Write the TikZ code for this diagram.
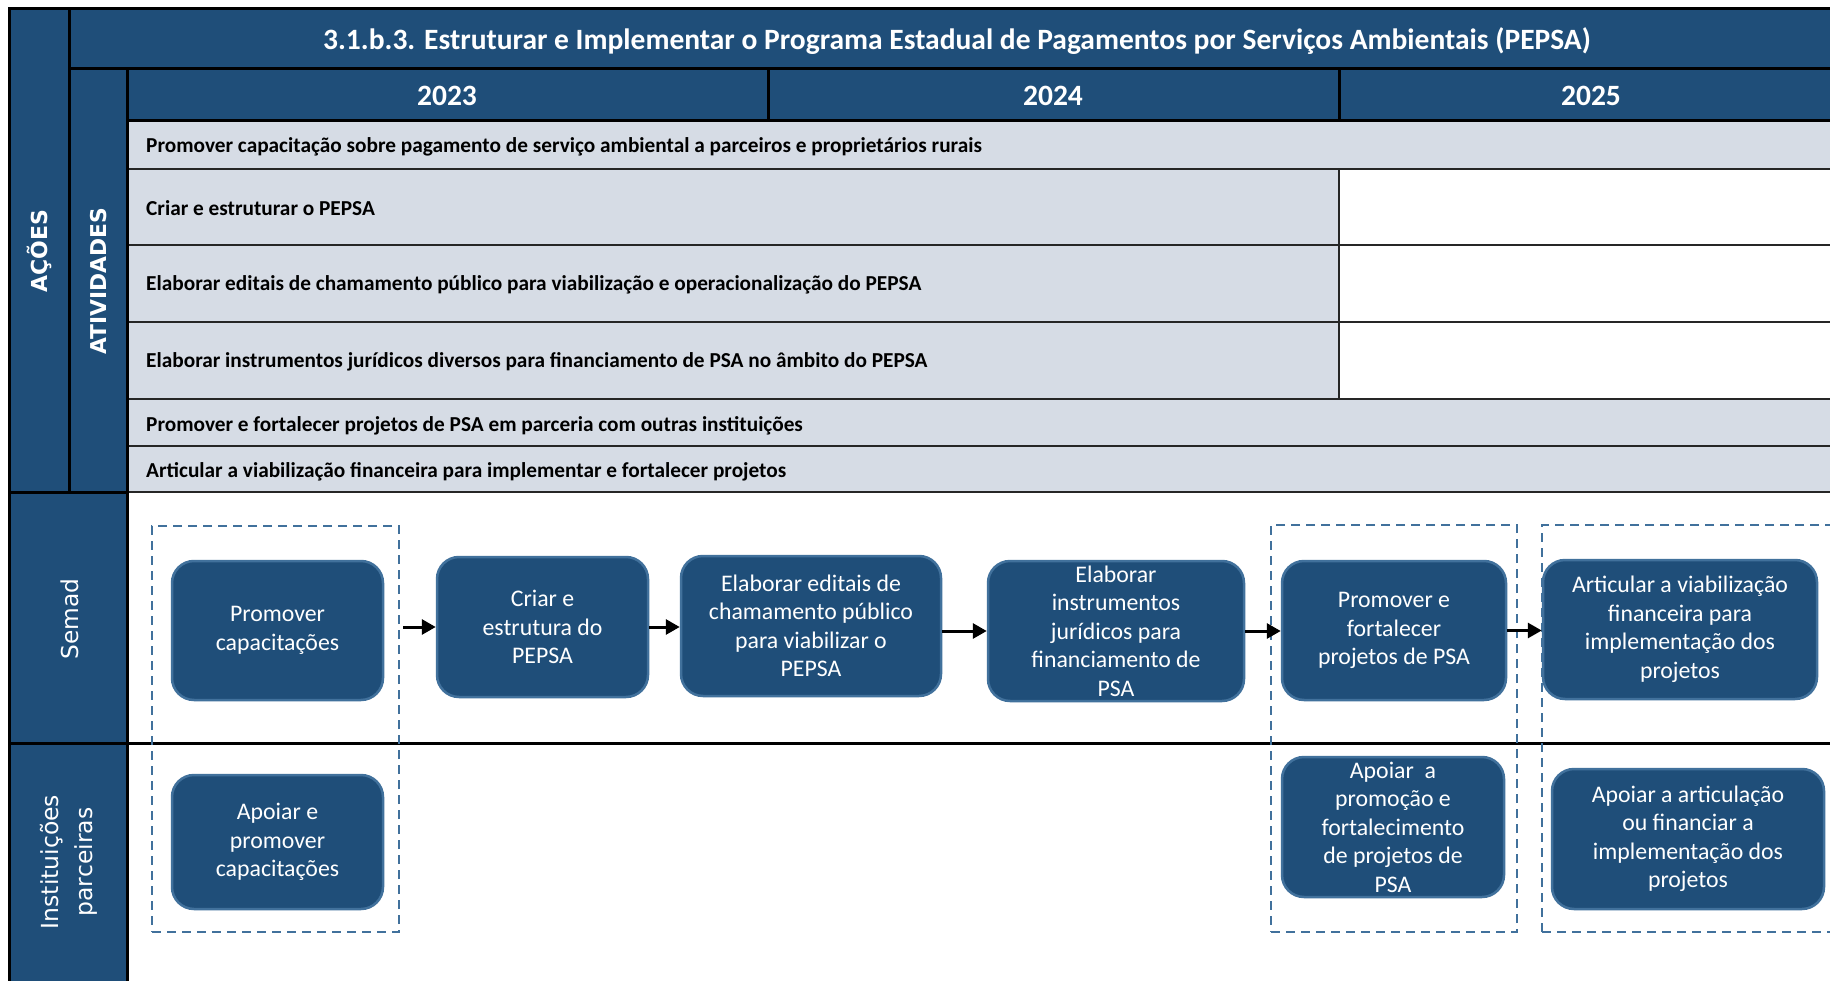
\documentclass[tikz,border=0pt]{standalone}
\usepackage{fontspec}
\setmainfont{Carlito}
\newfontfamily\labfont{DejaVu Sans}
\usetikzlibrary{arrows.meta}
\definecolor{hdr}{HTML}{1F4E79}
\definecolor{rowgray}{HTML}{D6DCE5}
\definecolor{nodeline}{HTML}{41719C}
\definecolor{dashc}{HTML}{41719C}
\begin{document}
\begin{tikzpicture}[x=1pt,y=-1pt,
  cell/.style={draw=black,line width=3pt,fill=hdr},
  gridline/.style={draw=black!85,line width=2.6pt},
  hdrtext/.style={text=white,font=\fontsize{29.5}{34}\selectfont\bfseries,inner sep=0pt},
  acttext/.style={anchor=west,text=black,font=\fontsize{21.3}{25}\selectfont\bfseries,inner sep=0pt},
  sidelab/.style={text=white,rotate=90,align=center,inner sep=0pt},
  proc/.style={draw=nodeline,line width=2.5pt,fill=hdr,rounded corners=22pt,text=white,align=center,
    font=\fontsize{23.8}{28.5}\selectfont,inner sep=0pt},
  grp/.style={draw=dashc,line width=2.5pt,dash pattern=on 9pt off 6pt,inner sep=0pt},
  flow/.style={draw=black,line width=3pt,-{Triangle[length=14pt,width=15pt]}}
]
\clip (0,0) rectangle (1830,981);
\fill[white] (0,0) rectangle (1830,981);
% activity rows
\fill[rowgray] (127,121) rectangle (1850,169);
\fill[rowgray] (127,169) rectangle (1339,399);
\fill[rowgray] (127,399) rectangle (1850,492);
\foreach \yy in {169,245,322,399,446,492}{\draw[gridline] (127,\yy) -- (1850,\yy);}
\draw[gridline] (1339,169) -- (1339,399);
% lanes
\draw[black,line width=3pt] (9,743) -- (1850,743);
\draw[black,line width=3pt] (127,492) -- (127,1000);
% header cells
\filldraw[cell] (9,9) rectangle (69,492);
\filldraw[cell] (69,9) rectangle (1850,69);
\filldraw[cell] (69,69) rectangle (127,492);
\filldraw[cell] (127,69) rectangle (768,121);
\filldraw[cell] (768,69) rectangle (1339,121);
\filldraw[cell] (1339,69) rectangle (1850,121);
\filldraw[cell] (9,492) rectangle (127,743);
\filldraw[cell] (9,743) rectangle (127,1000);
% header texts
\node[hdrtext] (title) at (957,41) {3.1.b.3. Estruturar e Implementar o Programa Estadual de Pagamentos por Serviços Ambientais (PEPSA)};
\node[hdrtext] (y23) at (447,96) {2023};
\node[hdrtext] (y24) at (1053,96) {2024};
\node[hdrtext] (y25) at (1591,96) {2025};
\node[sidelab,font=\labfont\fontsize{22}{26}\selectfont\bfseries] (acoes) at (39,251) {AÇÕES};
\node[sidelab,font=\labfont\fontsize{21.8}{26}\selectfont\bfseries] (ativ) at (99,281) {ATIVIDADES};
\node[sidelab,font=\labfont\fontsize{23.3}{33}\selectfont] (semad) at (70,619) {Semad};
\node[sidelab,font=\labfont\fontsize{23.5}{34}\selectfont] (inst) at (69,862) {Instituições\\parceiras};
% activity texts
\node[acttext] (a1) at (146,147) {Promover capacitação sobre pagamento de serviço ambiental a parceiros e proprietários rurais};
\node[acttext] (a2) at (146,208) {Criar e estruturar o PEPSA};
\node[acttext] (a3) at (146,285) {Elaborar editais de chamamento público para viabilização e operacionalização do PEPSA};
\node[acttext] (a4) at (146,362) {Elaborar instrumentos jurídicos diversos para financiamento de PSA no âmbito do PEPSA};
\node[acttext] (a5) at (146,426) {Promover e fortalecer projetos de PSA em parceria com outras instituições};
\node[acttext] (a6) at (146,472) {Articular a viabilização financeira para implementar e fortalecer projetos};
% group boxes
\node[grp,minimum width=247pt,minimum height=406pt] (g1) at (275.5,729) {};
\node[grp,minimum width=246pt,minimum height=407pt] (g2) at (1394,728.5) {};
\node[grp,minimum width=310pt,minimum height=407pt] (g3) at (1697,728.5) {};
% process nodes
\node[proc,minimum width=211pt,minimum height=139pt] (n1) at (277.5,630.5) {Promover\\capacitações};
\node[proc,minimum width=211pt,minimum height=140pt] (n2) at (542.5,627) {Criar e\\estrutura do\\PEPSA};
\node[proc,minimum width=260pt,minimum height=140pt] (n3) at (811,626) {Elaborar editais de\\chamamento público\\para viabilizar o\\PEPSA};
\node[proc,minimum width=256pt,minimum height=140pt] (n4) at (1116,631) {Elaborar\\instrumentos\\jurídicos para\\financiamento de\\PSA};
\node[proc,minimum width=224pt,minimum height=139pt] (n5) at (1394,630.5) {Promover e\\fortalecer\\projetos de PSA};
\node[proc,minimum width=274pt,minimum height=139pt] (n6) at (1680,629.5) {Articular a viabilização\\financeira para\\implementação dos\\projetos};
\node[proc,minimum width=211pt,minimum height=134pt] (m1) at (277.5,842) {Apoiar e\\promover\\capacitações};
\node[proc,minimum width=222pt,minimum height=140pt] (m5) at (1393,827) {Apoiar~~a\\promoção e\\fortalecimento\\de projetos de\\PSA};
\node[proc,minimum width=272pt,minimum height=140pt] (m6) at (1688,839) {Apoiar a articulação\\ou financiar a\\implementação dos\\projetos};
% flow arrows
\draw[flow] ([xshift=3pt]g1.east |- n2.west) -- (n2.west);
\draw[flow] (n2.east) -- (n3.west |- n2.east);
\draw[flow] (n3.east |- n4.west) -- (n4.west);
\draw[flow] (n4.east) -- (n5.west |- n4.east);
\draw[flow] (n5.east) -- (n6.west |- n5.east);
\end{tikzpicture}
\end{document}
